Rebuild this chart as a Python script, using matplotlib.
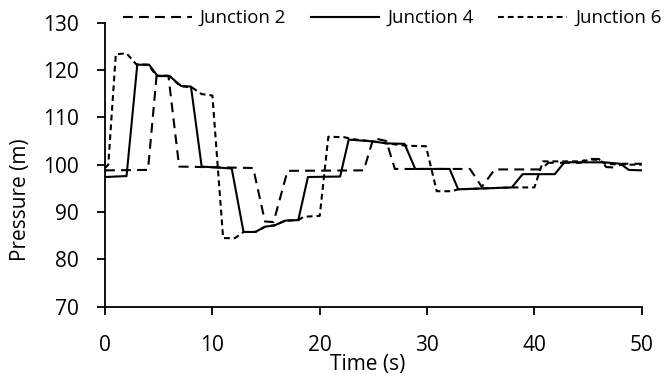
import matplotlib
matplotlib.use('Agg')
import matplotlib.pyplot as plt

plt.rcParams['font.family'] = ['Open Sans', 'DejaVu Sans']

# Junction 2 (long dash)
j2_t = [0, 4.0, 4.8, 5.9, 6.9, 13.8, 14.9, 15.7, 17.0, 24.1, 25.0, 26.2, 27.0,
        34.0, 35.1, 36.3, 40.6, 41.3, 44.3, 44.8, 46.0, 46.7, 47.5, 48.2, 50]
j2_p = [98.8, 98.9, 118.8, 118.8, 99.6, 99.3, 88.0, 87.9, 98.7, 98.8, 105.6, 105.0, 99.1,
        99.1, 95.3, 99.0, 99.0, 100.4, 100.4, 101.2, 101.2, 99.5, 99.4, 100.2, 100.2]

# Junction 4 (solid)
j4_t = [0, 2.0, 3.0, 4.1, 4.9, 6.0, 7.1, 8.0, 9.0, 11.8, 12.9, 14.0, 14.9, 15.8, 16.8,
        18.0, 18.9, 21.9, 22.7, 25.0, 26.2, 27.9, 28.9, 32.1, 32.9, 37.9, 38.9, 41.9,
        42.8, 46.5, 48.0, 48.8, 50]
j4_p = [97.4, 97.6, 121.1, 121.1, 118.7, 118.7, 116.6, 116.5, 99.6, 99.2, 85.8, 85.8, 86.9,
        87.2, 88.2, 88.3, 97.4, 97.5, 105.3, 104.9, 104.5, 104.4, 99.1, 99.1, 94.8, 95.2,
        98.0, 98.0, 100.5, 100.5, 100.2, 98.9, 98.8]

# Junction 6 (short dash)
j6_t = [0, 0.3, 1.0, 2.0, 2.9, 4.0, 4.8, 6.0, 7.0, 8.1, 9.0, 10.0, 11.0, 12.1, 12.9,
        14.0, 14.9, 15.8, 16.8, 18.0, 18.5, 20.0, 20.8, 22.3, 23.0, 25.0, 26.2, 28.1,
        29.9, 30.9, 32.3, 32.9, 37.9, 40.0, 40.8, 44.5, 45.2, 46.0, 46.6, 48.2, 50]
j6_p = [99.3, 100.0, 123.3, 123.5, 121.2, 121.1, 118.8, 118.7, 116.6, 116.3, 114.9, 114.6,
        84.5, 84.5, 85.8, 85.8, 86.9, 87.2, 88.2, 88.3, 89.0, 89.2, 105.9, 105.8, 105.4,
        104.9, 104.5, 104.0, 103.9, 94.4, 94.4, 94.8, 95.2, 95.2, 100.7, 100.7, 101.1,
        101.0, 100.2, 100.0, 100.0]

fig = plt.figure(figsize=(6.65, 3.76), dpi=100)
ax = fig.add_axes([0.158, 0.184, 0.807, 0.756])

lw = 1.5
ax.plot(j2_t, j2_p, color='black', lw=lw, dashes=(4.7, 3.0), label='Junction 2',
        dash_joinstyle='round', dash_capstyle='butt')
ax.plot(j4_t, j4_p, color='black', lw=lw, label='Junction 4', solid_joinstyle='round')
ax.plot(j6_t, j6_p, color='black', lw=lw, dashes=(2.8, 1.9), label='Junction 6',
        dash_joinstyle='round', dash_capstyle='butt')

ax.set_xlim(0, 50)
ax.set_ylim(70, 130)
ax.set_xticks(range(0, 51, 10))
ax.set_yticks(range(70, 131, 10))

for s in ['top', 'right']:
    ax.spines[s].set_visible(False)
for s in ['left', 'bottom']:
    ax.spines[s].set_linewidth(1.3)

ax.tick_params(direction='out', length=6, width=1.3, labelsize=15)
ax.tick_params(axis='x', pad=14)
ax.tick_params(axis='y', pad=13)

ax.set_xlabel('Time (s)', fontsize=15)
ax.set_ylabel('Pressure (m)', fontsize=15)
ax.xaxis.set_label_coords(0.49, -0.165)
ax.yaxis.set_label_coords(-0.138, 0.376)

fig.legend(loc='center', bbox_to_anchor=(0.59, 0.952), ncol=3, frameon=False,
           fontsize=13.4, handlelength=3.7, handletextpad=0.45, columnspacing=1.3,
           borderpad=0, borderaxespad=0)

fig.savefig('out.png', dpi=100)
